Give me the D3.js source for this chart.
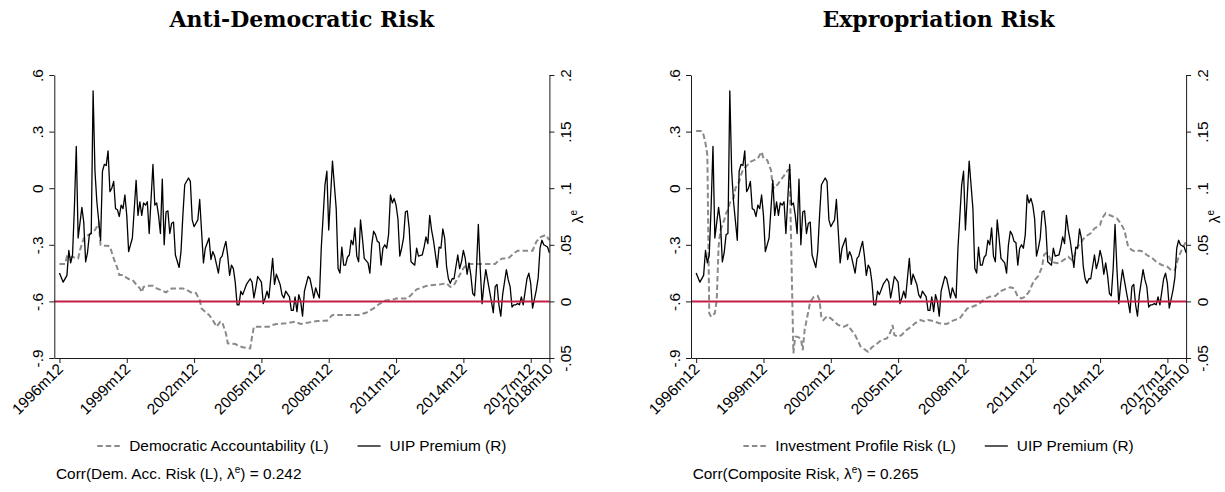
<!DOCTYPE html>
<html><head><meta charset="utf-8">
<script src="https://cdn.jsdelivr.net/npm/d3@7"></script>
<style>
body{margin:0;background:#fff}
svg{display:block}
text{font-family:"Liberation Sans",Arial,Helvetica,sans-serif;fill:#000}
</style>
</head><body>
<svg id="chart" width="1225" height="492"></svg>
<script>
// ---------------- DATA ----------------
const panelTitles = ["Anti-Democratic Risk", "Expropriation Risk"];
const legendRiskLabels = ["Democratic Accountability (L)", "Investment Profile Risk (L)"];
const legendUipLabel = "UIP Premium (R)";
const corrPrefix = ["Corr(Dem. Acc. Risk (L), λ", "Corr(Composite Risk, λ"];
const corrSuffix = [") = 0.242", ") = 0.265"];

// month index: 0 = 1996m12 ... 262 = 2018m10
const xTickMonths = [0, 36, 72, 108, 144, 180, 216, 252, 262];
const xTickLabels = ["1996m12", "1999m12", "2002m12", "2005m12", "2008m12", "2011m12", "2014m12", "2017m12", "2018m10"];
const leftTicks = [0.6, 0.3, 0, -0.3, -0.6, -0.9];
const leftTickLabels = [".6", ".3", "0", "-.3", "-.6", "-.9"];
const rightTicks = [0.2, 0.15, 0.1, 0.05, 0, -0.05];
const rightTickLabels = [".2", ".15", ".1", ".05", "0", "-.05"];
const zeroLineRight = 0;

// UIP premium (right axis), same in both panels
const uipMonth = [0,2,4,5,6,7,8,9,10,12,13,14,15,16,17,18,19,20,22,23,24,25,26,27,28,29,30,31,32,33,34,35,36,37,39,41,42,43,44,45,46,47,48,50,51,52,53,54,55,56,57,58,59,60,61,62,64,65,66,67,69,70,71,72,73,74,75,76,77,78,80,81,82,83,85,86,87,88,89,90,91,92,93,94,95,96,97,98,100,102,103,104,105,106,108,109,110,111,112,114,115,116,118,119,120,121,123,124,125,126,127,128,129,130,131,133,134,135,136,137,138,139,140,142,143,144,146,148,149,150,151,152,153,154,155,156,157,158,159,160,161,162,163,165,166,167,168,169,170,171,172,173,174,175,176,177,178,179,180,181,182,183,184,185,186,187,188,190,191,192,194,195,196,197,198,199,200,202,203,204,205,206,207,208,209,210,211,213,214,215,216,217,218,219,220,221,222,223,224,225,226,227,228,230,231,232,233,234,235,236,237,239,240,241,242,243,244,245,246,247,248,250,251,252,253,255,256,257,258,259,261,262];
const uipValue = [0.025,0.017,0.023,0.045,0.034,0.041,0.083,0.137,0.056,0.083,0.070,0.035,0.043,0.059,0.060,0.186,0.115,0.088,0.054,0.115,0.121,0.120,0.133,0.097,0.100,0.106,0.082,0.081,0.075,0.085,0.082,0.094,0.076,0.044,0.056,0.107,0.076,0.088,0.076,0.087,0.085,0.088,0.060,0.121,0.085,0.087,0.076,0.060,0.108,0.050,0.079,0.080,0.060,0.069,0.070,0.041,0.030,0.044,0.076,0.103,0.109,0.106,0.072,0.066,0.069,0.072,0.090,0.062,0.034,0.047,0.056,0.037,0.044,0.040,0.025,0.038,0.040,0.047,0.053,0.040,0.023,0.032,0.029,0.017,-0.003,-0.003,0.009,0.006,0.015,0.020,0.017,0.003,0.012,0.022,0.017,-0.002,0.003,0.009,0.003,0.038,0.015,0.024,0.015,0.006,0.003,0.009,0.004,-0.008,-0.008,0.004,-0.009,0.006,0.000,-0.013,0.009,0.022,0.020,0.012,0.003,0.012,0.007,0.003,0.047,0.103,0.115,0.063,0.124,0.082,0.029,0.025,0.048,0.032,0.032,0.039,0.041,0.054,0.050,0.065,0.040,0.035,0.072,0.056,0.038,0.034,0.025,0.050,0.062,0.059,0.053,0.052,0.032,0.047,0.050,0.047,0.059,0.094,0.087,0.091,0.085,0.073,0.040,0.047,0.056,0.079,0.080,0.065,0.035,0.032,0.047,0.040,0.041,0.048,0.057,0.051,0.076,0.063,0.054,0.030,0.048,0.047,0.064,0.056,0.031,0.020,0.016,0.020,0.020,0.041,0.029,0.035,0.045,0.038,0.024,0.034,0.023,0.007,0.005,0.029,0.068,0.029,-0.002,0.015,0.028,0.009,0.000,-0.010,0.013,0.015,-0.003,-0.013,0.006,0.028,0.019,0.013,-0.005,-0.003,-0.003,-0.002,-0.003,0.004,-0.003,0.020,0.025,0.016,-0.006,0.010,0.021,0.047,0.054,0.050,0.048,0.043];

// Democratic Accountability risk (left axis)
const demMonth = [0,3,4,5,7,9,10,11,13,14,16,18,19,21,22,24,26,27,29,31,32,34,35,37,39,41,43,44,45,47,50,52,54,57,60,66,68,71,73,75,76,78,80,82,84,86,87,89,90,94,96,98,102,103,104,112,114,116,121,126,129,131,138,143,146,160,164,168,171,174,179,180,186,188,191,194,196,200,204,207,209,211,212,214,216,218,233,235,237,240,243,245,253,255,257,260,262];
const demValue = [-0.402,-0.402,-0.363,-0.372,-0.363,-0.372,-0.372,-0.328,-0.266,-0.257,-0.244,-0.230,-0.222,-0.186,-0.301,-0.305,-0.305,-0.310,-0.372,-0.425,-0.460,-0.460,-0.469,-0.481,-0.486,-0.509,-0.531,-0.552,-0.523,-0.517,-0.517,-0.531,-0.539,-0.552,-0.531,-0.531,-0.539,-0.556,-0.556,-0.593,-0.637,-0.655,-0.672,-0.699,-0.734,-0.708,-0.708,-0.769,-0.822,-0.826,-0.836,-0.843,-0.849,-0.787,-0.734,-0.734,-0.725,-0.720,-0.716,-0.708,-0.720,-0.716,-0.704,-0.702,-0.672,-0.672,-0.660,-0.637,-0.614,-0.596,-0.589,-0.584,-0.584,-0.566,-0.536,-0.527,-0.518,-0.513,-0.509,-0.504,-0.523,-0.513,-0.495,-0.460,-0.425,-0.402,-0.402,-0.381,-0.372,-0.372,-0.345,-0.331,-0.331,-0.284,-0.260,-0.248,-0.275];

// Investment Profile risk (left axis)
const invMonth = [0,3,4,5,6,7,8,10,11,12,13,14,15,16,17,18,20,21,23,24,25,27,29,31,33,34,35,36,38,40,41,42,44,46,48,49,50,52,53,54,56,57,58,59,61,63,65,66,67,68,70,72,73,76,79,81,83,85,88,91,92,94,97,99,102,104,105,106,108,110,112,115,117,120,122,124,127,130,134,136,138,141,143,145,147,150,152,154,157,160,163,165,168,170,172,174,176,178,180,181,183,185,186,187,188,190,193,195,197,199,201,202,204,206,208,211,213,216,217,219,221,223,225,227,229,231,233,235,237,239,241,244,246,249,252,254,256,258,260,262];
const invValue = [0.303,0.303,0.282,0.238,0.176,-0.663,-0.681,-0.663,-0.593,-0.310,-0.222,-0.195,-0.169,-0.133,-0.116,-0.077,-0.054,0.000,0.034,0.070,0.096,0.118,0.140,0.149,0.158,0.176,0.193,0.158,0.149,0.096,0.008,0.000,0.026,0.053,0.079,0.096,0.096,-0.875,-0.787,-0.787,-0.796,-0.858,-0.752,-0.703,-0.602,-0.575,-0.571,-0.593,-0.690,-0.699,-0.678,-0.690,-0.699,-0.725,-0.734,-0.725,-0.752,-0.778,-0.840,-0.861,-0.867,-0.843,-0.822,-0.805,-0.796,-0.761,-0.725,-0.778,-0.787,-0.778,-0.755,-0.734,-0.716,-0.699,-0.705,-0.699,-0.705,-0.716,-0.720,-0.708,-0.699,-0.690,-0.663,-0.637,-0.631,-0.619,-0.607,-0.589,-0.575,-0.571,-0.545,-0.536,-0.525,-0.531,-0.575,-0.584,-0.575,-0.549,-0.504,-0.487,-0.465,-0.416,-0.354,-0.345,-0.345,-0.390,-0.398,-0.390,-0.377,-0.363,-0.381,-0.363,-0.310,-0.284,-0.257,-0.239,-0.213,-0.195,-0.160,-0.133,-0.142,-0.151,-0.160,-0.186,-0.222,-0.310,-0.328,-0.336,-0.331,-0.336,-0.354,-0.372,-0.390,-0.407,-0.416,-0.434,-0.434,-0.363,-0.319,-0.284];

const riskMonths = [demMonth, invMonth];
const riskValues = [demValue, invValue];

// ---------------- LAYOUT ----------------
const svg = d3.select("#chart");
const panelOffsets = [0, 636.7];
const plotLeft = 54.3, plotRight = 549.4, plotTop = 75, plotBottom = 358;
const FS = 15.4;

const x = d3.scaleLinear().domain([-2.75, 262]).range([plotLeft, plotRight]);
const yL = d3.scaleLinear().domain([-0.9, 0.6]).range([plotBottom, plotTop]);
const yR = d3.scaleLinear().domain([-0.05, 0.2]).range([plotBottom, plotTop]);

panelOffsets.forEach((off, p) => {
  const g = svg.append("g").attr("transform", `translate(${off},0)`);
  const cx = (plotLeft + plotRight) / 2;

  // title
  g.append("text").attr("x", cx).attr("y", 26.5).attr("text-anchor", "middle")
    .style("font-family", "'DejaVu Serif', serif").style("font-weight", "bold").style("font-size", "22px")
    .text(panelTitles[p]);

  // risk series (dashed gray)
  const riskData = riskMonths[p].map((m, i) => [m, riskValues[p][i]]);
  g.append("path").datum(riskData)
    .attr("d", d3.line().x(d => x(d[0])).y(d => yL(d[1])))
    .attr("fill", "none").attr("stroke", "#8a8a8a").attr("stroke-width", 2)
    .attr("stroke-dasharray", "5.5,3");

  // UIP premium
  const uipData = uipMonth.map((m, i) => [m, uipValue[i]]);
  g.append("path").datum(uipData)
    .attr("d", d3.line().x(d => x(d[0])).y(d => yR(d[1])))
    .attr("fill", "none").attr("stroke", "#000").attr("stroke-width", 1.3)
    .attr("stroke-linejoin", "round");

  // zero line
  g.append("line").attr("x1", plotLeft).attr("x2", plotRight)
    .attr("y1", yR(zeroLineRight)).attr("y2", yR(zeroLineRight))
    .attr("stroke", "#c41e48").attr("stroke-width", 2);

  // left axis
  const ax = g.append("g").attr("transform", `translate(${plotLeft},0)`)
    .call(d3.axisLeft(yL).tickValues(leftTicks).tickFormat((d, i) => leftTickLabels[i]).tickSize(5).tickSizeOuter(0));
  ax.selectAll("text").attr("x", 0).attr("dy", 0).attr("text-anchor", "middle")
    .attr("transform", "translate(-11,0) rotate(-90)").style("font-size", FS + "px");

  // right axis
  const ar = g.append("g").attr("transform", `translate(${plotRight},0)`)
    .call(d3.axisRight(yR).tickValues(rightTicks).tickFormat((d, i) => rightTickLabels[i]).tickSize(5).tickSizeOuter(0));
  ar.selectAll("text").attr("x", 0).attr("dy", 0).attr("text-anchor", "middle")
    .attr("transform", "translate(22,0) rotate(-90)").style("font-size", FS + "px");

  // bottom axis
  const ab = g.append("g").attr("transform", `translate(0,${plotBottom})`)
    .call(d3.axisBottom(x).tickValues(xTickMonths).tickFormat((d, i) => xTickLabels[i]).tickSize(5).tickSizeOuter(0));
  ab.selectAll("text").attr("x", 0).attr("y", 0).attr("dy", 0).attr("text-anchor", "end")
    .attr("transform", "translate(4,12) rotate(-45)").style("font-size", FS + "px");

  [ax, ar, ab].forEach(a => {
    a.selectAll("path,line").attr("stroke", "#1a1a1a").attr("stroke-width", 1);
    a.selectAll("text").attr("fill", "#000").style("font-family", "'Liberation Sans', Arial, sans-serif");
    a.attr("font-family", null).attr("font-size", null);
  });

  // right axis title λ^e
  const lt = g.append("text").attr("text-anchor", "middle")
    .attr("transform", `translate(${plotRight + 34},${(plotTop + plotBottom) / 2}) rotate(-90)`)
    .style("font-size", FS + "px");
  lt.append("tspan").text("λ");
  lt.append("tspan").attr("dy", -6).style("font-size", "10px").text("e");

  // legend
  const legY = 446;
  const lg = g.append("g");
  const items = [{dash: true, label: legendRiskLabels[p]}, {dash: false, label: legendUipLabel}];
  const keyW = 23, keyGap = 9, itemGap = 29;
  const widths = items.map(it => {
    const t = lg.append("text").style("font-size", FS + "px").text(it.label);
    const w = t.node().getComputedTextLength();
    t.remove();
    return w;
  });
  const total = widths.reduce((a, w) => a + keyW + keyGap + w, 0) + itemGap * (items.length - 1);
  let cur = cx - total / 2;
  items.forEach((it, i) => {
    lg.append("line").attr("x1", cur).attr("x2", cur + keyW).attr("y1", legY).attr("y2", legY)
      .attr("stroke", it.dash ? "#8a8a8a" : "#000").attr("stroke-width", it.dash ? 2 : 1.3)
      .attr("stroke-dasharray", it.dash ? "5.5,3" : null);
    lg.append("text").attr("x", cur + keyW + keyGap).attr("y", legY).attr("dy", "0.35em")
      .style("font-size", FS + "px").text(it.label);
    cur += keyW + keyGap + widths[i] + itemGap;
  });

  // correlation note
  const ct = g.append("text").attr("x", 56).attr("y", 479).style("font-size", FS + "px");
  ct.append("tspan").text(corrPrefix[p]);
  ct.append("tspan").attr("dy", -6).style("font-size", "10px").text("e");
  ct.append("tspan").attr("dy", 6).text(corrSuffix[p]);
});
</script>
</body></html>
